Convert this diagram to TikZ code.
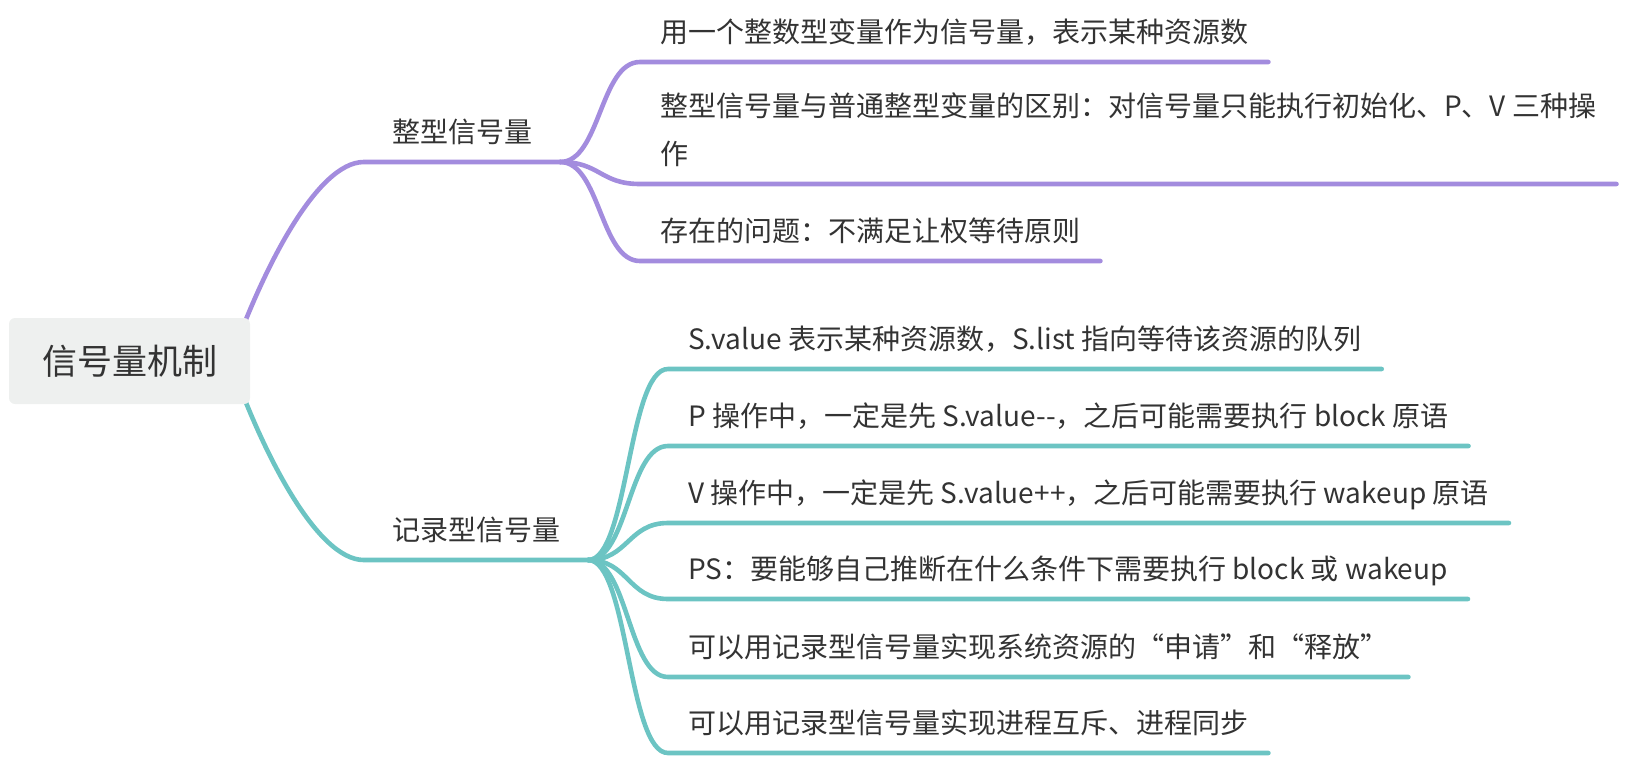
\documentclass[tikz,border=0pt]{standalone}
\usepackage{fontspec}
\setmainfont{Noto Sans CJK SC}
\usepackage{xcolor}
\usetikzlibrary{positioning,backgrounds}
\definecolor{mmPurple}{HTML}{A38CDE}
\definecolor{mmTeal}{HTML}{6CC4C3}
\definecolor{rootGray}{HTML}{EEF0EF}
\definecolor{ink}{HTML}{333333}

\begin{document}
\begin{tikzpicture}[
  x=1pt, y=-1pt,
  root/.style={fill=rootGray, rounded corners=6pt, minimum width=241pt,
               minimum height=86pt, text=ink, font=\fontsize{35}{42}\selectfont},
  topic/.style={anchor=south, inner xsep=28pt, inner ysep=0pt, text=ink,
                font=\fontsize{28}{48}\selectfont,
                execute at end node={\rule[-19.5pt]{0pt}{0pt}}},
  leaf/.style={topic, anchor=south west, inner xsep=20pt},
  limb/.style={line width=4.6pt, line cap=round}
]
\useasboundingbox (0,0) rectangle (1634,758);

\node[root] (sem) at (129.5,361) {信号量机制};

\node[topic] (int) at (462,162) {整型信号量};
\node[topic] (rec) at (476,560) {记录型信号量};

\node[leaf] (int1) at (640,62) {用一个整数型变量作为信号量，表示某种资源数};
\node[leaf, align=left] (int2) at (640,184)
  {整型信号量与普通整型变量的区别：对信号量只能执行初始化、P、V 三种操\\作};
\node[leaf] (int3) at (640,261) {存在的问题：不满足让权等待原则};

\node[leaf] (rec1) at (668,369) {S.value 表示某种资源数，S.list 指向等待该资源的队列};
\node[leaf] (rec2) at (668,446) {P 操作中，一定是先 S.value-{}-，之后可能需要执行 block 原语};
\node[leaf] (rec3) at (668,523) {V 操作中，一定是先 S.value++，之后可能需要执行 wakeup 原语};
\node[leaf] (rec4) at (668,599) {PS：要能够自己推断在什么条件下需要执行 block 或 wakeup};
\node[leaf] (rec5) at (668,677) {可以用记录型信号量实现系统资源的“申请”和“释放”};
\node[leaf] (rec6) at (668,753) {可以用记录型信号量实现进程互斥、进程同步};

\begin{scope}[on background layer]
\draw[limb, mmPurple] ([xshift=-20pt]sem.east) .. controls +(32,-91) and +(-47,0) .. (int.south west) -- (int.south east);
\draw[limb, mmTeal] ([xshift=-20pt]sem.east) .. controls +(32,91) and +(-47,0) .. (rec.south west) -- (rec.south east);

\draw[limb, mmPurple] (int.south east) .. controls +(40,0) and +(-40,0) .. (int1.south west) -- (int1.south east);
\draw[limb, mmPurple] (int.south east) .. controls +(40,0) and +(-40,0) .. (int2.south west) -- (int2.south east);
\draw[limb, mmPurple] (int.south east) .. controls +(40,0) and +(-40,0) .. (int3.south west) -- (int3.south east);

\draw[limb, mmTeal] (rec.south east) .. controls +(40,0) and +(-40,0) .. (rec1.south west) -- (rec1.south east);
\draw[limb, mmTeal] (rec.south east) .. controls +(40,0) and +(-40,0) .. (rec2.south west) -- (rec2.south east);
\draw[limb, mmTeal] (rec.south east) .. controls +(40,0) and +(-40,0) .. (rec3.south west) -- (rec3.south east);
\draw[limb, mmTeal] (rec.south east) .. controls +(40,0) and +(-40,0) .. (rec4.south west) -- (rec4.south east);
\draw[limb, mmTeal] (rec.south east) .. controls +(40,0) and +(-40,0) .. (rec5.south west) -- (rec5.south east);
\draw[limb, mmTeal] (rec.south east) .. controls +(40,0) and +(-40,0) .. (rec6.south west) -- (rec6.south east);
\end{scope}
\end{tikzpicture}
\end{document}
